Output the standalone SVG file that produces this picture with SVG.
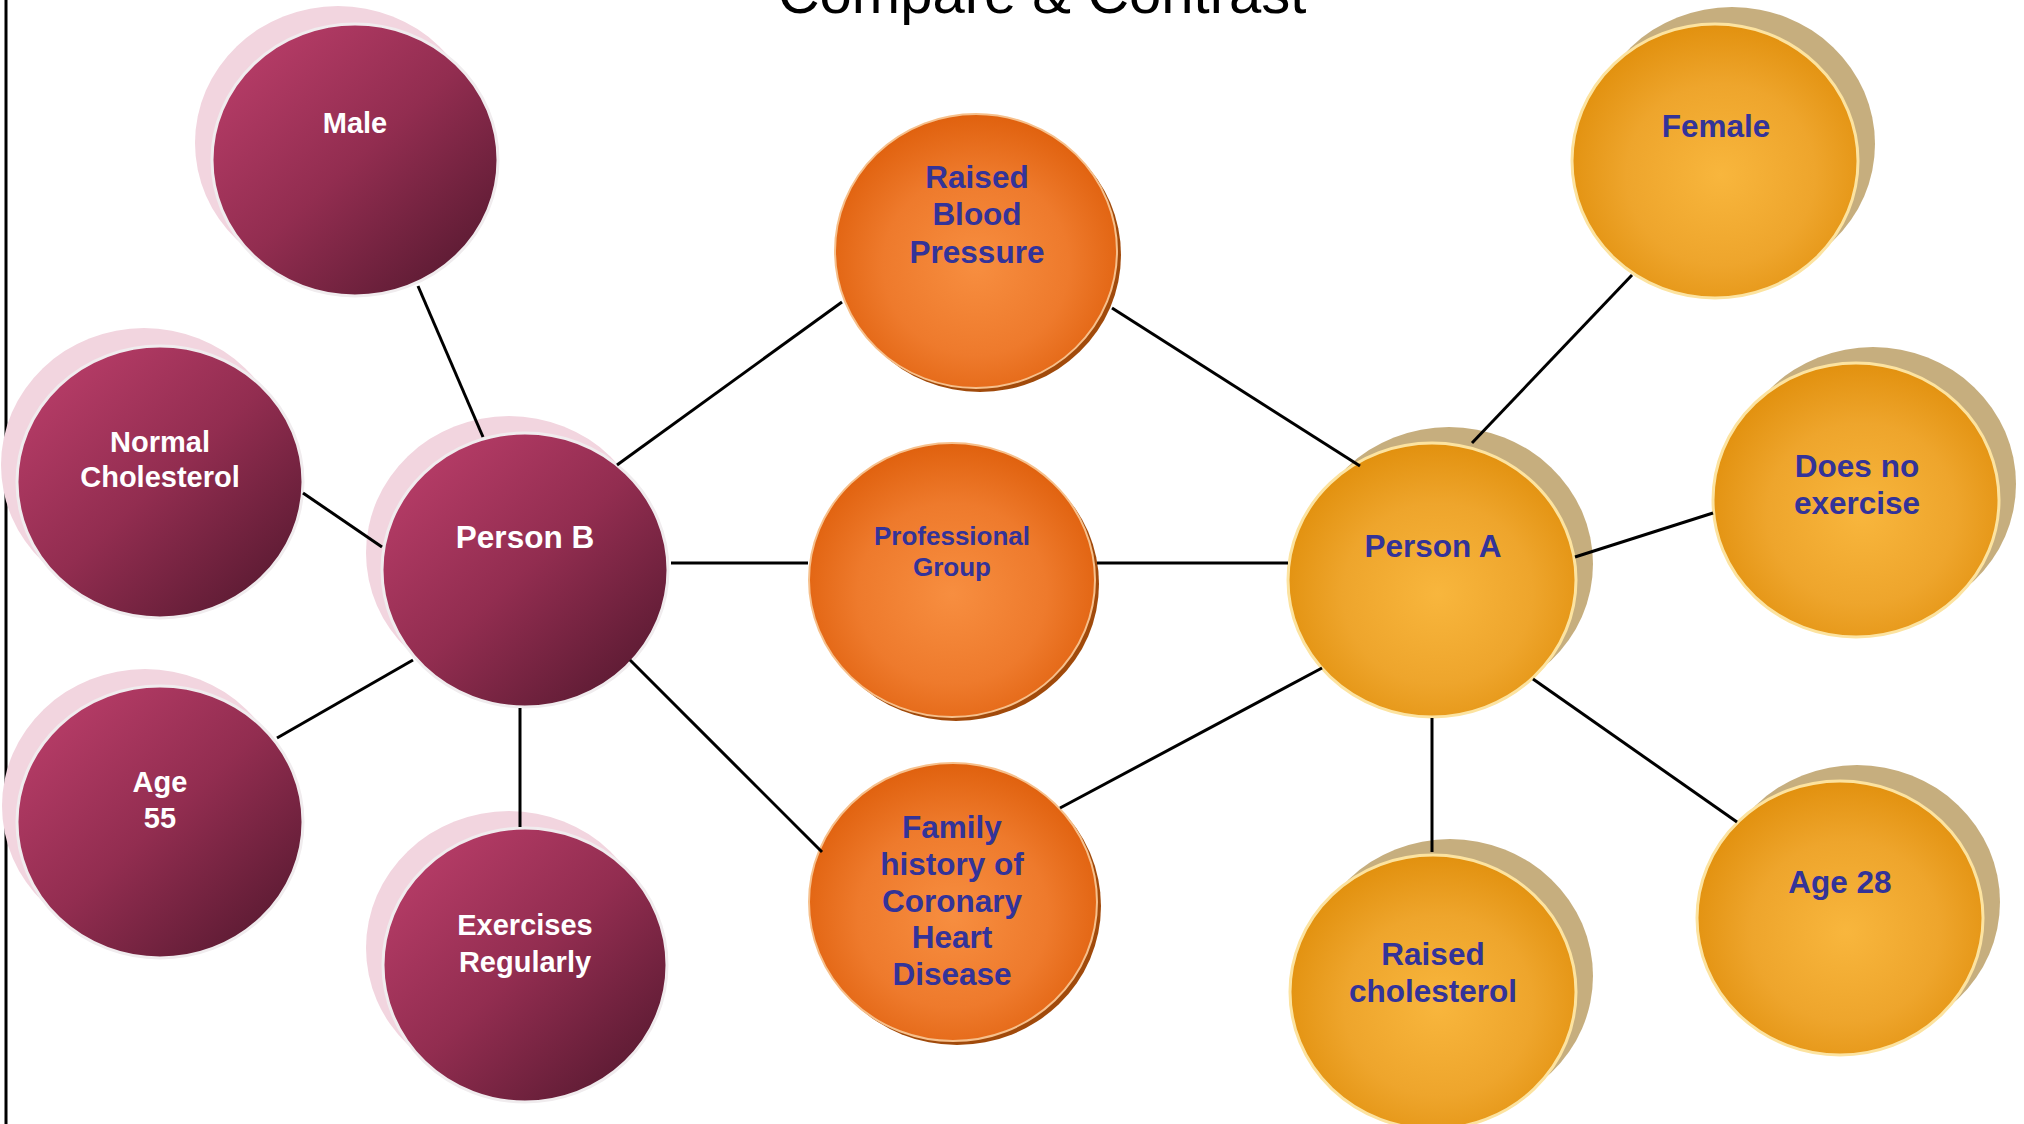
<svg xmlns="http://www.w3.org/2000/svg" width="2024" height="1124" viewBox="0 0 2024 1124">
<defs>
<linearGradient id="gPink" x1="0.12" y1="0.1" x2="0.88" y2="0.9">
<stop offset="0" stop-color="#B63C67"/>
<stop offset="0.5" stop-color="#922D50"/>
<stop offset="1" stop-color="#5C1B33"/>
</linearGradient>
<radialGradient id="gOrange" cx="0.5" cy="0.55" r="0.55">
<stop offset="0" stop-color="#F78E40"/>
<stop offset="0.6" stop-color="#EE7A2C"/>
<stop offset="1" stop-color="#E0610E"/>
</radialGradient>
<radialGradient id="gGold" cx="0.52" cy="0.55" r="0.55">
<stop offset="0" stop-color="#F8B63D"/>
<stop offset="0.6" stop-color="#EEA52C"/>
<stop offset="1" stop-color="#E2910F"/>
</radialGradient>
<style>
.pshadow{fill:#F2D5DF}
.pmain{fill:url(#gPink);stroke:#F0ECEE;stroke-width:3}
.oshadow{fill:#A14A0B}
.omain{fill:url(#gOrange);stroke:#F6C08C;stroke-width:2}
.gshadow{fill:#C6AE7E}
.gmain{fill:url(#gGold);stroke:#FCE3A0;stroke-width:3}
.wt{font-family:"Liberation Sans",Arial,sans-serif;font-weight:bold;fill:#FFFFFF;text-anchor:middle;font-size:29px}
.bt{font-family:"Liberation Sans",Arial,sans-serif;font-weight:bold;fill:#333399;text-anchor:middle;font-size:31.5px}
.big{font-size:31.5px}
.small{font-size:26px}
.conn line{stroke:#000000;stroke-width:3;stroke-linecap:butt}
</style>
</defs>
<rect x="0" y="0" width="2024" height="1124" fill="#FFFFFF"/>
<line x1="6" y1="0" x2="6" y2="1124" stroke="#000000" stroke-width="3"/>
<text x="1042" y="13" font-family="'Liberation Sans',Arial,sans-serif" font-size="58" fill="#000000" text-anchor="middle">Compare &amp; Contrast</text>

<!-- Person B side (pink) -->
<g id="male">
<ellipse class="pshadow" cx="338" cy="143" rx="143" ry="137"/>
<ellipse class="pmain" cx="355" cy="160" rx="143" ry="136"/>
<text class="wt" x="355" y="133">Male</text>
</g>
<g id="normal-cholesterol">
<ellipse class="pshadow" cx="144" cy="465" rx="143" ry="137"/>
<ellipse class="pmain" cx="160" cy="482" rx="143" ry="136"/>
<text class="wt" x="160" y="452">Normal</text>
<text class="wt" x="160" y="487">Cholesterol</text>
</g>
<g id="age-55">
<ellipse class="pshadow" cx="145" cy="806" rx="143" ry="137"/>
<ellipse class="pmain" cx="160" cy="822" rx="143" ry="136"/>
<text class="wt" x="160" y="792">Age</text>
<text class="wt" x="160" y="828">55</text>
</g>
<g id="exercises-regularly">
<ellipse class="pshadow" cx="509" cy="948" rx="143" ry="137"/>
<ellipse class="pmain" cx="525" cy="965" rx="142" ry="137"/>
<text class="wt" x="525" y="935">Exercises</text>
<text class="wt" x="525" y="972">Regularly</text>
</g>
<g id="person-b">
<ellipse class="pshadow" cx="509" cy="553" rx="143" ry="137"/>
<ellipse class="pmain" cx="525" cy="570" rx="143" ry="137"/>
<text class="wt big" x="525" y="548">Person B</text>
</g>

<!-- Shared (orange) -->
<g id="raised-blood-pressure">
<ellipse class="oshadow" cx="980" cy="255" rx="141" ry="137"/>
<ellipse class="omain" cx="976" cy="251" rx="141" ry="137"/>
<text class="bt" x="977" y="188">Raised</text>
<text class="bt" x="977" y="225">Blood</text>
<text class="bt" x="977" y="263">Pressure</text>
</g>
<g id="professional-group">
<ellipse class="oshadow" cx="956" cy="584" rx="143" ry="137"/>
<ellipse class="omain" cx="952" cy="580" rx="143" ry="137"/>
<text class="bt small" x="952" y="545">Professional</text>
<text class="bt small" x="952" y="576">Group</text>
</g>
<g id="family-history">
<ellipse class="oshadow" cx="957" cy="906" rx="144" ry="139"/>
<ellipse class="omain" cx="953" cy="902" rx="144" ry="139"/>
<text class="bt" x="952" y="838">Family</text>
<text class="bt" x="952" y="875">history of</text>
<text class="bt" x="952" y="912">Coronary</text>
<text class="bt" x="952" y="948">Heart</text>
<text class="bt" x="952" y="985">Disease</text>
</g>

<!-- Person A side (gold) -->
<g id="female">
<ellipse class="gshadow" cx="1732" cy="144" rx="143" ry="137"/>
<ellipse class="gmain" cx="1715" cy="161" rx="143" ry="137"/>
<text class="bt" x="1716" y="137">Female</text>
</g>
<g id="does-no-exercise">
<ellipse class="gshadow" cx="1873" cy="484" rx="143" ry="137"/>
<ellipse class="gmain" cx="1856" cy="500" rx="143" ry="137"/>
<text class="bt" x="1857" y="477">Does no</text>
<text class="bt" x="1857" y="514">exercise</text>
</g>
<g id="age-28">
<ellipse class="gshadow" cx="1857" cy="902" rx="143" ry="137"/>
<ellipse class="gmain" cx="1840" cy="918" rx="143" ry="137"/>
<text class="bt" x="1840" y="893">Age 28</text>
</g>
<g id="raised-cholesterol">
<ellipse class="gshadow" cx="1450" cy="976" rx="143" ry="137"/>
<ellipse class="gmain" cx="1433" cy="992" rx="143" ry="137"/>
<text class="bt" x="1433" y="965">Raised</text>
<text class="bt" x="1433" y="1002">cholesterol</text>
</g>
<g id="person-a">
<ellipse class="gshadow" cx="1449" cy="564" rx="144" ry="137"/>
<ellipse class="gmain" cx="1432" cy="580" rx="144" ry="137"/>
<text class="bt" x="1433" y="557">Person A</text>
</g>

<g id="connectors" class="conn">
<line x1="418" y1="286" x2="483" y2="437"/>
<line x1="303" y1="493" x2="382" y2="547"/>
<line x1="277" y1="738" x2="413" y2="660"/>
<line x1="520" y1="708" x2="520" y2="827"/>
<line x1="617" y1="465" x2="842" y2="302"/>
<line x1="671" y1="563" x2="808" y2="563"/>
<line x1="630" y1="660" x2="822" y2="852"/>
<line x1="1112" y1="308" x2="1360" y2="466"/>
<line x1="1097" y1="563" x2="1288" y2="563"/>
<line x1="1060" y1="808" x2="1322" y2="668"/>
<line x1="1472" y1="443" x2="1632" y2="275"/>
<line x1="1575" y1="557" x2="1713" y2="513"/>
<line x1="1533" y1="679" x2="1737" y2="822"/>
<line x1="1432" y1="718" x2="1432" y2="852"/>
</g>
</svg>
